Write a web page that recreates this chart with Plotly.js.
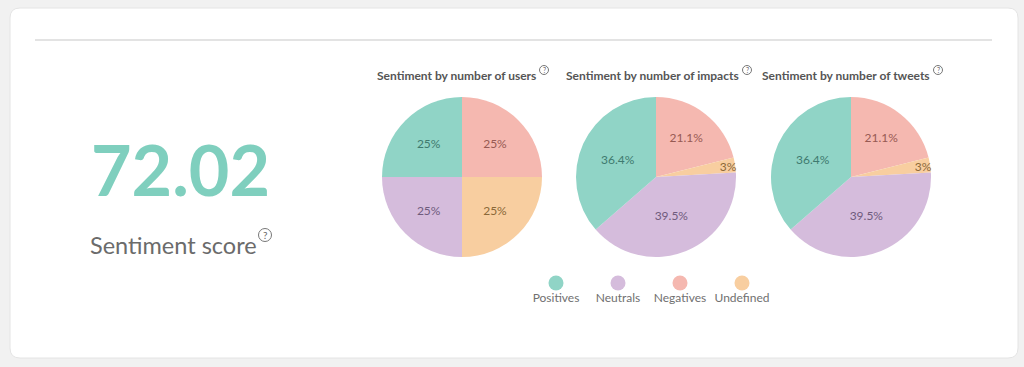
<!DOCTYPE html>
<html>
<head>
<meta charset="utf-8">
<script src="https://cdn.plot.ly/plotly-3.0.1.min.js"></script>
<style>html,body{margin:0;padding:0;background:#f1f1f1;}#chart{width:1024px;height:367px;}</style>
</head>
<body>
<div id="chart"></div>
<script>
// ---- data ----
const categories = ['Positives', 'Neutrals', 'Negatives', 'Undefined'];
const usersValues = [25, 25, 25, 25];
const impactsValues = [36.4, 39.5, 21.1, 3];
const tweetsValues = [36.4, 39.5, 21.1, 3];
const pieTitles = ['Sentiment by number of users', 'Sentiment by number of impacts', 'Sentiment by number of tweets'];
const scoreValue = 72.02;
const scoreLabel = 'Sentiment score';

// ---- styles ----
const sliceColors = ['#90d4c6', '#d5bcdc', '#f5b8b0', '#f8cea0'];
const textColors = ['#3f7a6f', '#6f5b7c', '#975a53', '#8a6838'];
const FONT = 'Lato, "Source Sans Pro", "Noto Sans", sans-serif';
const W = 1024, H = 367;
const px = x => x / W;
const py = y => 1 - y / H;

// slice drawing order, clockwise from 12 o'clock
const order = [2, 3, 1, 0];
const reorder = arr => order.map(i => arr[i]);

const pieDomainsPx = [[382, 542], [576, 736], [771, 931]];
const pieY = [97, 257];
const allValues = [usersValues, impactsValues, tweetsValues];

const traces = allValues.map((vals, k) => ({
  type: 'pie',
  values: reorder(vals),
  labels: reorder(categories),
  sort: false,
  direction: 'clockwise',
  rotation: 0,
  marker: {colors: reorder(sliceColors), line: {width: 0}},
  texttemplate: '%{value}%',
  textposition: 'inside',
  insidetextorientation: 'horizontal',
  insidetextfont: {family: FONT, size: 12, color: reorder(textColors)},
  hoverinfo: 'none',
  showlegend: false,
  domain: {x: [px(pieDomainsPx[k][0]), px(pieDomainsPx[k][1])], y: [py(pieY[1]), py(pieY[0])]}
}));

// legend as a scatter on its own axis
traces.push({
  type: 'scatter',
  x: categories,
  y: categories.map(() => 0),
  mode: 'markers+text',
  text: categories,
  textposition: 'bottom center',
  textfont: {family: FONT, size: 12, color: '#707070'},
  marker: {size: 15, color: sliceColors, line: {width: 0}},
  hoverinfo: 'none',
  showlegend: false,
  cliponaxis: false,
  xaxis: 'x', yaxis: 'y'
});

// card outline with rounded corners
const cx0 = 10, cx1 = 1018, cy0 = 8, cy1 = 358, r = 10;
const cardPath = 'M ' + px(cx0 + r) + ',' + py(cy0) +
  ' L ' + px(cx1 - r) + ',' + py(cy0) +
  ' Q ' + px(cx1) + ',' + py(cy0) + ' ' + px(cx1) + ',' + py(cy0 + r) +
  ' L ' + px(cx1) + ',' + py(cy1 - r) +
  ' Q ' + px(cx1) + ',' + py(cy1) + ' ' + px(cx1 - r) + ',' + py(cy1) +
  ' L ' + px(cx0 + r) + ',' + py(cy1) +
  ' Q ' + px(cx0) + ',' + py(cy1) + ' ' + px(cx0) + ',' + py(cy1 - r) +
  ' L ' + px(cx0) + ',' + py(cy0 + r) +
  ' Q ' + px(cx0) + ',' + py(cy0) + ' ' + px(cx0 + r) + ',' + py(cy0) + ' Z';

const shapes = [
  {type: 'path', xref: 'paper', yref: 'paper', path: cardPath, fillcolor: '#ffffff', line: {color: '#e4e4e4', width: 1}, layer: 'below'},
  {type: 'line', xref: 'paper', yref: 'paper', x0: px(35), x1: px(992), y0: py(40), y1: py(40), line: {color: '#e3e3e3', width: 2}, layer: 'below'}
];

const annotations = [];
// help icons (circled question marks)
function helpIcon(x, y, rad, fs) {
  shapes.push({type: 'circle', xref: 'paper', yref: 'paper', x0: px(x - rad), x1: px(x + rad), y0: py(y + rad), y1: py(y - rad), line: {color: '#777', width: 1}, fillcolor: 'rgba(0,0,0,0)'});
  annotations.push({xref: 'paper', yref: 'paper', x: px(x), y: py(y), text: '?', showarrow: false, xanchor: 'center', yanchor: 'middle', font: {family: FONT, size: fs, color: '#666'}});
}

const titleEnds = [538, 741, 932];
pieTitles.forEach((t, k) => {
  annotations.push({xref: 'paper', yref: 'paper', x: px(titleEnds[k]), y: py(75), text: '<b>' + t + '</b>', showarrow: false, xanchor: 'right', yanchor: 'middle', font: {family: FONT, size: 12, color: '#555555'}});
  helpIcon(titleEnds[k] + 6, 70, 4.5, 7);
});

annotations.push({xref: 'paper', yref: 'paper', x: px(180), y: py(169), text: '<b>' + scoreValue.toFixed(2) + '</b>', showarrow: false, xanchor: 'center', yanchor: 'middle', font: {family: FONT, size: 70, color: '#7fcfbe'}});
annotations.push({xref: 'paper', yref: 'paper', x: px(88), y: py(245), text: scoreLabel, showarrow: false, xanchor: 'left', yanchor: 'middle', font: {family: FONT, size: 23.5, color: '#6b6b6b'}});
helpIcon(265, 235, 6.5, 10);

const layout = {
  width: W, height: H,
  margin: {l: 0, r: 0, t: 0, b: 0},
  paper_bgcolor: '#f1f1f1',
  plot_bgcolor: 'rgba(0,0,0,0)',
  font: {family: FONT},
  uniformtext: {mode: 'show', minsize: 12},
  xaxis: {domain: [px(525), px(773)], range: [-0.5, 3.5], visible: false, fixedrange: true, type: 'category'},
  yaxis: {domain: [py(300), py(266)], range: [-1, 1], visible: false, fixedrange: true},
  shapes: shapes,
  annotations: annotations,
  showlegend: false
};

Plotly.newPlot('chart', traces, layout, {staticPlot: true, displayModeBar: false});
</script>
</body>
</html>
